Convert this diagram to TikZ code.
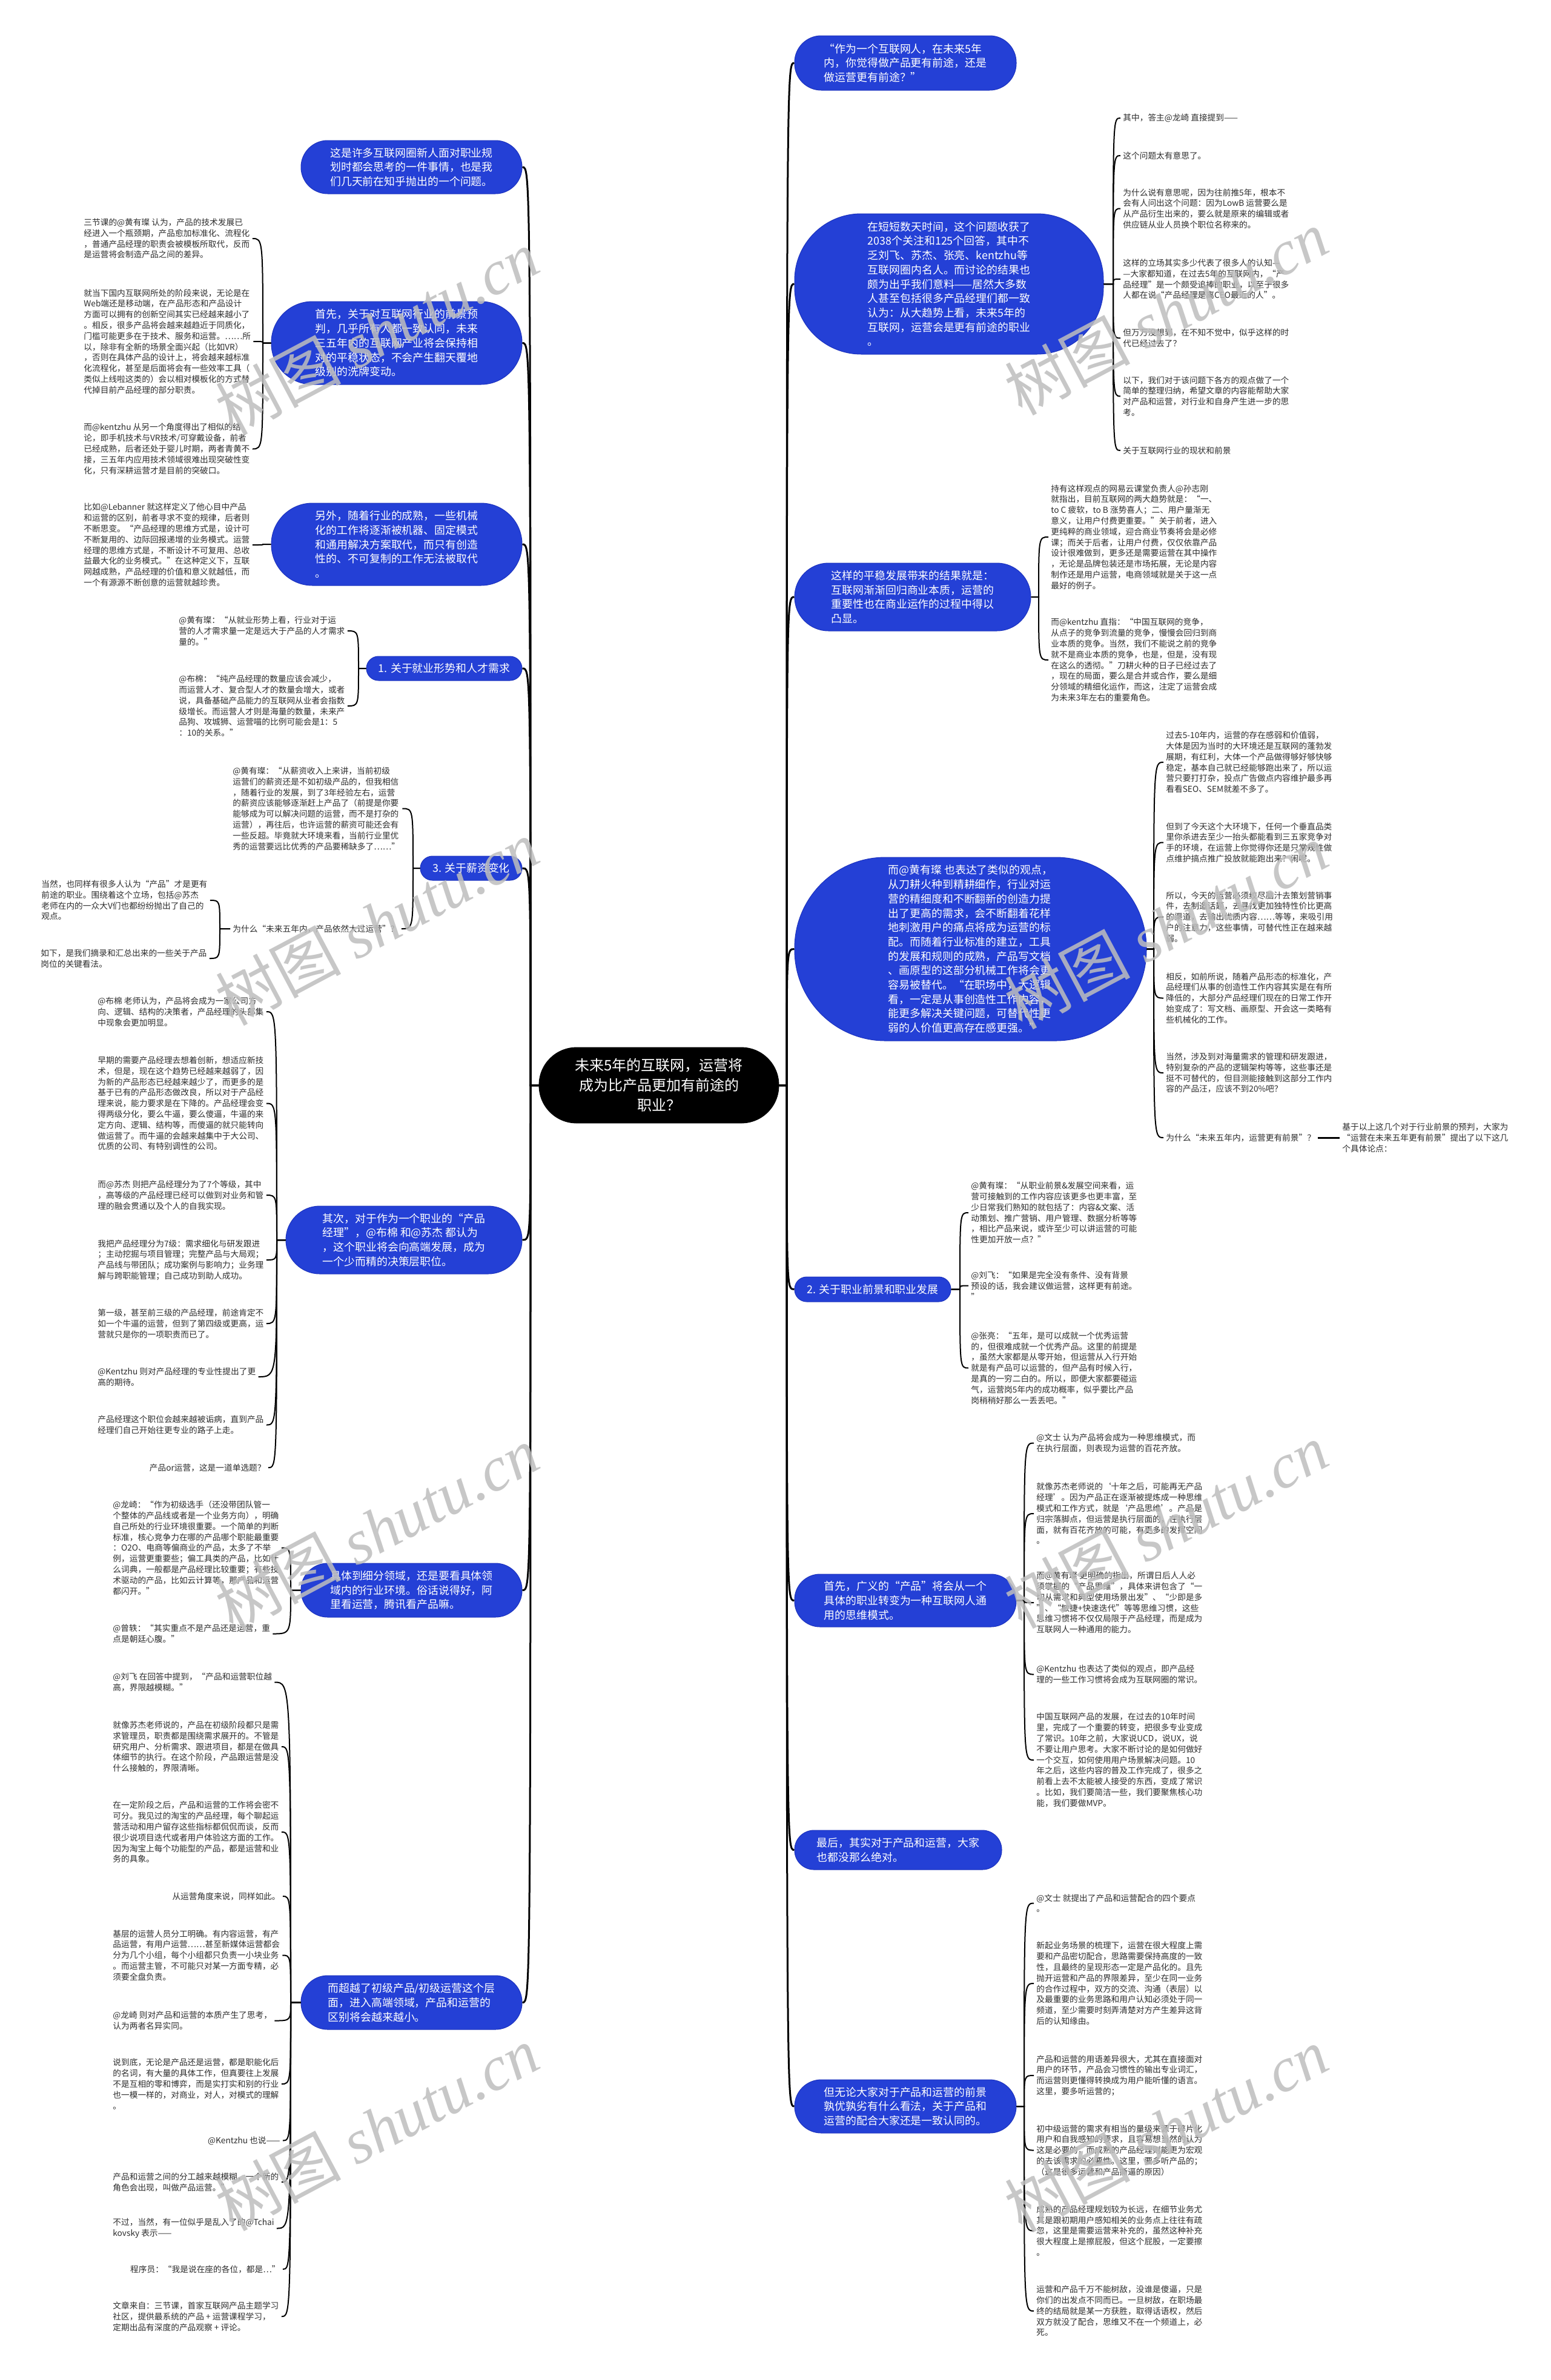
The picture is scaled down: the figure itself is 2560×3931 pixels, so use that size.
\documentclass[tikz,border=0pt]{standalone}
\usepackage{fontspec}
\setmainfont{Noto Sans CJK SC}
\newfontfamily\wmserif{Liberation Serif}
\definecolor{nodeblue}{RGB}{36,64,214}
\definecolor{nodeedge}{RGB}{28,50,190}
\definecolor{leaftext}{RGB}{45,45,45}
\definecolor{wmgray}{RGB}{190,190,190}
\tikzset{
  leaf/.style={inner xsep=2pt, inner ysep=1pt, align=left, text=leaftext,
    font=\fontsize{6.85pt}{8.9pt}\selectfont},
  bnode/.style={fill=nodeblue, draw=nodeedge, line width=0.5pt, text=white,
    align=left, inner sep=0pt, font=\fontsize{8.95pt}{11.85pt}\selectfont},
  cnode/.style={fill=black, draw=black, text=white, align=center, inner sep=0pt,
    font=\fontsize{12pt}{16.4pt}\selectfont},
  lk/.style={line width=1.0pt, black},
  mk/.style={line width=1.5pt, black},
  wm/.style={text=wmgray, text opacity=0.85, rotate=28, inner sep=0pt,
    font=\fontsize{52pt}{56pt}\selectfont}
}
\newcommand\linkl[3]{\coordinate (sp) at (#3,0);
  \draw[lk] (#1.west) -- (#1.west -| sp) .. controls (#2.east -| sp) and (#2.east -| sp) .. (#2.east);}
\newcommand\linkr[3]{\coordinate (sp) at (#3,0);
  \draw[lk] (#1.east) -- (#1.east -| sp) .. controls (#2.west -| sp) and (#2.west -| sp) .. (#2.west);}
\newcommand\mainl[1]{\draw[mk] (C.west) -- (C.west -| spL) .. controls (#1.east -| spL) and (#1.east -| spL) .. (#1.east);}
\newcommand\mainr[1]{\draw[mk] (C.east) -- (C.east -| spR) .. controls (#1.west -| spR) and (#1.west -| spR) .. (#1.west);}
\begin{document}
\begin{tikzpicture}[x=0.5pt,y=-0.5pt]
\useasboundingbox (0,0) rectangle (2560,3931);
\fill[white] (0,0) rectangle (2560,3931);
\coordinate (spL) at (876,0);
\coordinate (spR) at (1299,0);

% ---------------- centre
\node[cnode, minimum width=198pt, minimum height=62.5pt, rounded corners=31pt] (C) at (1088,1792.5)
 {未来5年的互联网，运营将\\成为比产品更加有前途的\\职业？};

% ---------------- left branch nodes
\node[bnode, minimum width=182.5pt, minimum height=44pt, rounded corners=22pt] (L1) at (679.5,276)
 {这是许多互联网圈新人面对职业规\\划时都会思考的一件事情，也是我\\们几天前在知乎抛出的一个问题。};
\node[bnode, minimum width=207pt, minimum height=68.5pt, rounded corners=34pt] (L2) at (655,566.5)
 {首先，关于对互联网行业的前景预\\判，几乎所有人都一致认同，未来\\三五年内的互联网产业将会保持相\\对的平稳状态，不会产生翻天覆地\\级别的洗牌变动。};
\node[bnode, minimum width=207pt, minimum height=68pt, rounded corners=34pt] (L3) at (655,899)
 {另外，随着行业的成熟，一些机械\\化的工作将逐渐被机器、固定模式\\和通用解决方案取代，而只有创造\\性的、不可复制的工作无法被取代\\。};
\node[bnode, minimum width=128.5pt, minimum height=20pt, rounded corners=10pt] (L4) at (733.5,1104)
 {1. 关于就业形势和人才需求};
\node[bnode, minimum width=84pt, minimum height=20pt, rounded corners=10pt] (L5) at (778,1434)
 {3. 关于薪资变化};
\node[bnode, minimum width=195pt, minimum height=56pt, rounded corners=28pt] (L6) at (667,2048)
 {其次，对于作为一个职业的“产品\\经理”，@布棉 和@苏杰 都认为\\，这个职业将会向高端发展，成为\\一个少而精的决策层职位。};
\node[bnode, minimum width=182.5pt, minimum height=44.5pt, rounded corners=22pt] (L7) at (679.5,2626.5)
 {具体到细分领域，还是要看具体领\\域内的行业环境。俗话说得好，阿\\里看运营，腾讯看产品嘛。};
\node[bnode, minimum width=182.5pt, minimum height=44.5pt, rounded corners=22pt] (L8) at (679.5,3307.5)
 {而超越了初级产品/初级运营这个层\\面，进入高端领域，产品和运营的\\区别将会越来越小。};

% ---------------- right branch nodes
\node[bnode, minimum width=183pt, minimum height=45pt, rounded corners=22pt] (R1) at (1495,104)
 {“作为一个互联网人，在未来5年\\内，你觉得做产品更有前途，还是\\做运营更有前途？”};
\node[bnode, minimum width=255pt, minimum height=116pt, rounded corners=55pt] (R2) at (1567,469)
 {在短短数天时间，这个问题收获了\\2038个关注和125个回答，其中不\\乏刘飞、苏杰、张亮、kentzhu等\\互联网圈内名人。而讨论的结果也\\颇为出乎我们意料——居然大多数\\人甚至包括很多产品经理们都一致\\认为：从大趋势上看，未来5年的\\互联网，运营会是更有前途的职业\\。};
\node[bnode, minimum width=195pt, minimum height=56pt, rounded corners=28pt] (R3) at (1507,986)
 {这样的平稳发展带来的结果就是：\\互联网渐渐回归商业本质，运营的\\重要性也在商业运作的过程中得以\\凸显。};
\node[bnode, minimum width=290.5pt, minimum height=151.5pt, rounded corners=75pt] (R4) at (1602.5,1567.5)
 {而@黄有璨 也表达了类似的观点，\\从刀耕火种到精耕细作，行业对运\\营的精细度和不断翻新的创造力提\\出了更高的需求，会不断翻着花样\\地刺激用户的痛点将成为运营的标\\配。而随着行业标准的建立，工具\\的发展和规则的成熟，产品写文档\\、画原型的这部分机械工作将会更\\容易被替代。“在职场中，大逻辑\\看，一定是从事创造性工作内容，\\能更多解决关键问题，可替代性更\\弱的人价值更高存在感更强。”};
\node[bnode, minimum width=129pt, minimum height=20.5pt, rounded corners=10pt] (R5) at (1441,2129.5)
 {2. 关于职业前景和职业发展};
\node[bnode, minimum width=183pt, minimum height=43.5pt, rounded corners=21pt] (R6) at (1495,2643.5)
 {首先，广义的“产品”将会从一个\\具体的职业转变为一种互联网人通\\用的思维模式。};
\node[bnode, minimum width=171pt, minimum height=32.5pt, rounded corners=16pt] (R7) at (1483,3055.5)
 {最后，其实对于产品和运营，大家\\也都没那么绝对。};
\node[bnode, minimum width=183pt, minimum height=44pt, rounded corners=22pt] (R8) at (1495,3479)
 {但无论大家对于产品和运营的前景\\孰优孰劣有什么看法，关于产品和\\运营的配合大家还是一致认同的。};

% ---------------- main connectors
\mainl{L1}\mainl{L2}\mainl{L3}\mainl{L4}\mainl{L5}\mainl{L6}\mainl{L7}\mainl{L8}
\mainr{R1}\mainr{R2}\mainr{R3}\mainr{R4}\mainr{R5}\mainr{R6}\mainr{R7}\mainr{R8}

% ---------------- L2 leaves
\node[leaf, anchor=west] (l2a) at (134,394) {三节课的@黄有璨 认为，产品的技术发展已\\
经进入一个瓶颈期，产品愈加标准化、流程化\\
，普通产品经理的职责会被模板所取代，反而\\
是运营将会制造产品之间的差异。};
\node[leaf, anchor=west] (l2b) at (134,564) {就当下国内互联网所处的阶段来说，无论是在\\
Web端还是移动端，在产品形态和产品设计\\
方面可以拥有的创新空间其实已经越来越小了\\
。相反，很多产品将会越来越趋近于同质化，\\
门槛可能更多在于技术、服务和运营。……所\\
以，除非有全新的场景全面兴起（比如VR）\\
，否则在具体产品的设计上，将会越来越标准\\
化流程化，甚至是后面将会有一些效率工具（\\
类似上线啦这类的）会以相对模板化的方式替\\
代掉目前产品经理的部分职责。};
\node[leaf, anchor=west] (l2c) at (134,741.5) {而@kentzhu 从另一个角度得出了相似的结\\
论，即手机技术与VR技术/可穿戴设备，前者\\
已经成熟，后者还处于婴儿时期，两者青黄不\\
接，三五年内应用技术领域很难出现突破性变\\
化，只有深耕运营才是目前的突破口。};
\linkl{L2}{l2a}{434}\linkl{L2}{l2b}{434}\linkl{L2}{l2c}{434}

% ---------------- L3 leaf
\node[leaf, anchor=west] (l3a) at (134,900) {比如@Lebanner 就这样定义了他心目中产品\\
和运营的区别，前者寻求不变的规律，后者则\\
不断思变。“产品经理的思维方式是，设计可\\
不断复用的、边际回报递增的业务模式。运营\\
经理的思维方式是，不断设计不可复用、总收\\
益最大化的业务模式。”在这种定义下，互联\\
网越成熟，产品经理的价值和意义就越低，而\\
一个有源源不断创意的运营就越珍贵。};
\linkl{L3}{l3a}{434}

% ---------------- L4 leaves
\node[leaf, anchor=west] (l4a) at (291,1042) {@黄有璨：“从就业形势上看，行业对于运\\
营的人才需求量一定是远大于产品的人才需求\\
量的。”};
\node[leaf, anchor=west] (l4b) at (291,1166) {@布棉：“纯产品经理的数量应该会减少，\\
而运营人才、复合型人才的数量会增大，或者\\
说，具备基础产品能力的互联网从业者会指数\\
级增长。而运营人才则是海量的数量，未来产\\
品狗、攻城狮、运营喵的比例可能会是1：5\\
：10的关系。”};
\linkl{L4}{l4a}{592}\linkl{L4}{l4b}{592}

% ---------------- L5 leaves
\node[leaf, anchor=west] (l5a) at (380,1335.5) {@黄有璨：“从薪资收入上来讲，当前初级\\
运营们的薪资还是不如初级产品的，但我相信\\
，随着行业的发展，到了3年经验左右，运营\\
的薪资应该能够逐渐赶上产品了（前提是你要\\
能够成为可以解决问题的运营，而不是打杂的\\
运营），再往后，也许运营的薪资可能还会有\\
一些反超。毕竟就大环境来看，当前行业里优\\
秀的运营要远比优秀的产品要稀缺多了……”};
\node[leaf, anchor=west] (l5b) at (380,1534) {为什么“未来五年内，产品依然大过运营”？};
\linkl{L5}{l5a}{682}\linkl{L5}{l5b}{682}
\node[leaf, anchor=west] (l5b1) at (64,1487) {当然，也同样有很多人认为“产品”才是更有\\
前途的职业。围绕着这个立场，包括@苏杰 \\
老师在内的一众大V们也都纷纷抛出了自己的\\
观点。};
\node[leaf, anchor=west] (l5b2) at (63,1583) {如下，是我们摘录和汇总出来的一些关于产品\\
岗位的关键看法。};
\linkl{l5b}{l5b1}{363}\linkl{l5b}{l5b2}{363}

% ---------------- L6 leaves
\node[leaf, anchor=west] (l6a) at (157,1671) {@布棉 老师认为，产品将会成为一家公司方\\
向、逻辑、结构的决策者，产品经理的头部集\\
中现象会更加明显。};
\node[leaf, anchor=west] (l6b) at (157,1822.5) {早期的需要产品经理去想着创新，想适应新技\\
术，但是，现在这个趋势已经越来越弱了，因\\
为新的产品形态已经越来越少了，而更多的是\\
基于已有的产品形态做改良，所以对于产品经\\
理来说，能力要求是在下降的。产品经理会变\\
得两级分化，要么牛逼，要么傻逼，牛逼的来\\
定方向、逻辑、结构等，而傻逼的就只能转向\\
做运营了。而牛逼的会越来越集中于大公司、\\
优质的公司、有特别调性的公司。};
\node[leaf, anchor=west] (l6c) at (157,1974) {而@苏杰 则把产品经理分为了7个等级，其中\\
，高等级的产品经理已经可以做到对业务和管\\
理的融会贯通以及个人的自我实现。};
\node[leaf, anchor=west] (l6d) at (157,2081) {我把产品经理分为7级：需求细化与研发跟进\\
；主动挖掘与项目管理；完整产品与大局观；\\
产品线与带团队；成功案例与影响力；业务理\\
解与跨职能管理；自己成功到助人成功。};
\node[leaf, anchor=west] (l6e) at (157,2186) {第一级，甚至前三级的产品经理，前途肯定不\\
如一个牛逼的运营，但到了第四级或更高，运\\
营就只是你的一项职责而已了。};
\node[leaf, anchor=west] (l6f) at (157,2274) {@Kentzhu 则对产品经理的专业性提出了更\\
高的期待。};
\node[leaf, anchor=west] (l6g) at (157,2353.5) {产品经理这个职位会越来越被诟病，直到产品\\
经理们自己开始往更专业的路子上走。};
\node[leaf, anchor=east] (l6h) at (443,2424) {产品or运营，这是一道单选题？};
\linkl{L6}{l6a}{457}\linkl{L6}{l6b}{457}\linkl{L6}{l6c}{457}\linkl{L6}{l6d}{457}
\linkl{L6}{l6e}{457}\linkl{L6}{l6f}{457}\linkl{L6}{l6g}{457}\linkl{L6}{l6h}{457}

% ---------------- L7 leaves
\node[leaf, anchor=west] (l7a) at (182,2556.5) {@龙崎：“作为初级选手（还没带团队管一\\
个整体的产品线或者是一个业务方向），明确\\
自己所处的行业环境很重要。一个简单的判断\\
标准，核心竞争力在哪的产品哪个职能最重要\\
：O2O、电商等偏商业的产品，太多了不举\\
例，运营更重要些；偏工具类的产品，比如什\\
么词典，一般都是产品经理比较重要；有些技\\
术驱动的产品，比如云计算等，那产品和运营\\
都闪开。”};
\node[leaf, anchor=west] (l7b) at (182,2698.5) {@曾轶：“其实重点不是产品还是运营，重\\
点是朝廷心腹。”};
\linkl{L7}{l7a}{480}\linkl{L7}{l7b}{480}

% ---------------- L8 leaves
\node[leaf, anchor=west] (l8a) at (182,2778.5) {@刘飞 在回答中提到，“产品和运营职位越\\
高，界限越模糊。”};
\node[leaf, anchor=west] (l8b) at (182,2885) {就像苏杰老师说的，产品在初级阶段都只是需\\
求管理员，职责都是围绕需求展开的。不管是\\
研究用户、分析需求、跟进项目，都是在做具\\
体细节的执行。在这个阶段，产品跟运营是没\\
什么接触的，界限清晰。};
\node[leaf, anchor=west] (l8c) at (182,3026) {在一定阶段之后，产品和运营的工作将会密不\\
可分。我见过的淘宝的产品经理，每个聊起运\\
营活动和用户留存这些指标都侃侃而谈，反而\\
很少说项目迭代或者用户体验这方面的工作。\\
因为淘宝上每个功能型的产品，都是运营和业\\
务的具象。};
\node[leaf, anchor=east] (l8d) at (467,3132) {从运营角度来说，同样如此。};
\node[leaf, anchor=west] (l8e) at (182,3229.5) {基层的运营人员分工明确。有内容运营，有产\\
品运营，有用户运营……甚至新媒体运营都会\\
分为几个小组，每个小组都只负责一小块业务\\
。而运营主管，不可能只对某一方面专精，必\\
须要全盘负责。};
\node[leaf, anchor=west] (l8f) at (182,3337.5) {@龙崎 则对产品和运营的本质产生了思考，\\
认为两者名异实同。};
\node[leaf, anchor=west] (l8g) at (182,3442) {说到底，无论是产品还是运营，都是职能化后\\
的名词，有大量的具体工作，但真要往上发展\\
不是互相的零和博弈，而是实打实和别的行业\\
也一模一样的，对商业，对人，对模式的理解\\
。};
\node[leaf, anchor=east] (l8h) at (467,3535.5) {@Kentzhu 也说——};
\node[leaf, anchor=west] (l8i) at (182,3604) {产品和运营之间的分工越来越模糊，一个新的\\
角色会出现，叫做产品运营。”};
\node[leaf, anchor=west] (l8j) at (182,3680.5) {不过，当然，有一位似乎是乱入了的@Tchai\\
kovsky 表示——};
\node[leaf, anchor=east] (l8k) at (467,3748) {程序员：“我是说在座的各位，都是…”};
\node[leaf, anchor=west] (l8l) at (182,3826) {文章来自：三节课，首家互联网产品主题学习\\
社区，提供最系统的产品 + 运营课程学习，\\
定期出品有深度的产品观察 + 评论。};
\linkl{L8}{l8a}{480}\linkl{L8}{l8b}{480}\linkl{L8}{l8c}{480}\linkl{L8}{l8d}{480}
\linkl{L8}{l8e}{480}\linkl{L8}{l8f}{480}\linkl{L8}{l8g}{480}\linkl{L8}{l8h}{480}
\linkl{L8}{l8i}{480}\linkl{L8}{l8j}{480}\linkl{L8}{l8k}{480}\linkl{L8}{l8l}{480}

% ---------------- R2 leaves
\node[leaf, anchor=west] (r2a) at (1850,195) {其中，答主@龙崎 直接提到——};
\node[leaf, anchor=west] (r2b) at (1850,257) {这个问题太有意思了。};
\node[leaf, anchor=west] (r2c) at (1850,344.5) {为什么说有意思呢，因为往前推5年，根本不\\
会有人问出这个问题：因为LowB 运营要么是\\
从产品衍生出来的，要么就是原来的编辑或者\\
供应链从业人员换个职位名称来的。};
\node[leaf, anchor=west] (r2d) at (1850,461) {这样的立场其实多少代表了很多人的认知—\\
—大家都知道，在过去5年的互联网内，“产\\
品经理”是一个颇受追捧的职业，以至于很多\\
人都在说“产品经理是离CEO最近的人”。};
\node[leaf, anchor=west] (r2e) at (1850,558.5) {但万万没想到，在不知不觉中，似乎这样的时\\
代已经过去了？};
\node[leaf, anchor=west] (r2f) at (1850,654.5) {以下，我们对于该问题下各方的观点做了一个\\
简单的整理归纳，希望文章的内容能帮助大家\\
对产品和运营，对行业和自身产生进一步的思\\
考。};
\node[leaf, anchor=west] (r2g) at (1850,744) {关于互联网行业的现状和前景};
\linkr{R2}{r2a}{1838}\linkr{R2}{r2b}{1838}\linkr{R2}{r2c}{1838}\linkr{R2}{r2d}{1838}
\linkr{R2}{r2e}{1838}\linkr{R2}{r2f}{1838}\linkr{R2}{r2g}{1838}

% ---------------- R3 leaves
\node[leaf, anchor=west] (r3a) at (1731,887) {持有这样观点的网易云课堂负责人@孙志刚\\
就指出，目前互联网的两大趋势就是：“一、\\
to C 疲软，to B 涨势喜人；二、用户量渐无\\
意义，让用户付费更重要。”关于前者，进入\\
更纯粹的商业领域，迎合商业节奏将会是必修\\
课；而关于后者，让用户付费，仅仅依靠产品\\
设计很难做到，更多还是需要运营在其中操作\\
，无论是品牌包装还是市场拓展，无论是内容\\
制作还是用户运营，电商领域就是关于这一点\\
最好的例子。};
\node[leaf, anchor=west] (r3b) at (1731,1090) {而@kentzhu 直指：“中国互联网的竞争，\\
从点子的竞争到流量的竞争，慢慢会回归到商\\
业本质的竞争。当然，我们不能说之前的竞争\\
就不是商业本质的竞争，也是，但是，没有现\\
在这么的透彻。”刀耕火种的日子已经过去了\\
，现在的局面，要么是合并或合作，要么是细\\
分领域的精细化运作，而这，注定了运营会成\\
为未来3年左右的重要角色。};
\linkr{R3}{r3a}{1715}\linkr{R3}{r3b}{1715}

% ---------------- R4 leaves
\node[leaf, anchor=west] (r4a) at (1921,1259) {过去5-10年内，运营的存在感弱和价值弱，\\
大体是因为当时的大环境还是互联网的蓬勃发\\
展期，有红利，大体一个产品做得够好够快够\\
稳定，基本自己就已经能够跑出来了，所以运\\
营只要打打杂，投点广告做点内容维护最多再\\
看看SEO、SEM就差不多了。};
\node[leaf, anchor=west] (r4b) at (1921,1391.5) {但到了今天这个大环境下，任何一个垂直品类\\
里你杀进去至少一抬头都能看到三五家竞争对\\
手的环境，在运营上你觉得你还是只常规性做\\
点维护搞点推广投放就能跑出来？闹呢。};
\node[leaf, anchor=west] (r4c) at (1921,1514.5) {所以，今天的运营必须绞尽脑汁去策划营销事\\
件，去制造话题，去寻找更加独特性价比更高\\
的渠道，去输出优质内容……等等，来吸引用\\
户的注意力，这些事情，可替代性正在越来越\\
弱。};
\node[leaf, anchor=west] (r4d) at (1921,1648.5) {相反，如前所说，随着产品形态的标准化，产\\
品经理们从事的创造性工作内容其实是在有所\\
降低的，大部分产品经理们现在的日常工作开\\
始变成了：写文档、画原型、开会这一类略有\\
些机械化的工作。};
\node[leaf, anchor=west] (r4e) at (1921,1772) {当然，涉及到对海量需求的管理和研发跟进，\\
特别复杂的产品的逻辑架构等等，这些事还是\\
挺不可替代的，但目测能接触到这部分工作内\\
容的产品汪，应该不到20\%吧？};
\node[leaf, anchor=west] (r4f) at (1921,1879) {为什么“未来五年内，运营更有前景”？};
\node[leaf, anchor=west] (r4f1) at (2212,1879) {基于以上这几个对于行业前景的预判，大家为\\
“运营在未来五年更有前景”提出了以下这几\\
个具体论点：};
\linkr{R4}{r4a}{1905}\linkr{R4}{r4b}{1905}\linkr{R4}{r4c}{1905}
\linkr{R4}{r4d}{1905}\linkr{R4}{r4e}{1905}\linkr{R4}{r4f}{1905}
\draw[mk] (r4f.east) -- (r4f1.west);

% ---------------- R5 leaves
\node[leaf, anchor=west] (r5a) at (1599,2003) {@黄有璨：“从职业前景\&发展空间来看，运\\
营可接触到的工作内容应该更多也更丰富，至\\
少日常我们熟知的就包括了：内容\&文案、活\\
动策划、推广营销、用户管理、数据分析等等\\
，相比产品来说，或许至少可以讲运营的可能\\
性更加开放一点？”};
\node[leaf, anchor=west] (r5b) at (1599,2123.5) {@刘飞：“如果是完全没有条件、没有背景\\
预设的话，我会建议做运营，这样更有前途。\\
”};
\node[leaf, anchor=west] (r5c) at (1599,2259.5) {@张亮：“五年，是可以成就一个优秀运营\\
的，但很难成就一个优秀产品。这里的前提是\\
，虽然大家都是从零开始，但运营从入行开始\\
就是有产品可以运营的，但产品有时候入行，\\
是真的一穷二白的。所以，即便大家都要碰运\\
气，运营岗5年内的成功概率，似乎要比产品\\
岗稍稍好那么一丢丢吧。”};
\linkr{R5}{r5a}{1585}\linkr{R5}{r5b}{1585}\linkr{R5}{r5c}{1585}

% ---------------- R6 leaves
\node[leaf, anchor=west] (r6a) at (1707,2383.5) {@文士 认为产品将会成为一种思维模式，而\\
在执行层面，则表现为运营的百花齐放。};
\node[leaf, anchor=west] (r6b) at (1707,2500) {就像苏杰老师说的‘十年之后，可能再无产品\\
经理’。因为产品正在逐渐被提炼成一种思维\\
模式和工作方式，就是‘产品思维’。产品是\\
归宗落脚点，但运营是执行层面的，在执行层\\
面，就有百花齐放的可能，有更多的发挥空间\\
。};
\node[leaf, anchor=west] (r6c) at (1707,2647) {而@黄有璨 更明确的指出，所谓日后人人必\\
须掌握的“产品思维”，具体来讲包含了“一\\
切从需求和典型使用场景出发”、“少即是多\\
”、“敏捷+快速迭代”等等思维习惯，这些\\
思维习惯将不仅仅局限于产品经理，而是成为\\
互联网人一种通用的能力。};
\node[leaf, anchor=west] (r6d) at (1707,2765.5) {@Kentzhu 也表达了类似的观点，即产品经\\
理的一些工作习惯将会成为互联网圈的常识。};
\node[leaf, anchor=west] (r6e) at (1707,2907) {中国互联网产品的发展，在过去的10年时间\\
里，完成了一个重要的转变，把很多专业变成\\
了常识。10年之前，大家说UCD，说UX，说\\
不要让用户思考。大家不断讨论的是如何做好\\
一个交互，如何使用用户场景解决问题。10\\
年之后，这些内容的普及工作完成了，很多之\\
前看上去不太能被人接受的东西，变成了常识\\
。比如，我们要简洁一些，我们要聚焦核心功\\
能，我们要做MVP。};
\linkr{R6}{r6a}{1691}\linkr{R6}{r6b}{1691}\linkr{R6}{r6c}{1691}
\linkr{R6}{r6d}{1691}\linkr{R6}{r6e}{1691}

% ---------------- R8 leaves
\node[leaf, anchor=west] (r8a) at (1707,3143.5) {@文士 就提出了产品和运营配合的四个要点\\
。};
\node[leaf, anchor=west] (r8b) at (1707,3276) {新起业务场景的梳理下，运营在很大程度上需\\
要和产品密切配合，思路需要保持高度的一致\\
性，且最终的呈现形态一定是产品化的。且先\\
抛开运营和产品的界限差异，至少在同一业务\\
的合作过程中，双方的交流、沟通（表层）以\\
及最重要的业务思路和用户认知必须处于同一\\
频道，至少需要时刻弄清楚对方产生差异这背\\
后的认知缘由。};
\node[leaf, anchor=west] (r8c) at (1707,3428) {产品和运营的用语差异很大，尤其在直接面对\\
用户的环节，产品会习惯性的输出专业词汇，\\
而运营则更懂得转换成为用户能听懂的语言。\\
这里，要多听运营的；};
\node[leaf, anchor=west] (r8d) at (1707,3551.5) {初中级运营的需求有相当的量级来源于碎片化\\
用户和自我感知的要求，且容易想当然的认为\\
这是必要的，而成熟的产品经理则能更为宏观\\
的去该需求的必要性。这里，要多听产品的；\\
（这是很多运营和产品撕逼的原因）};
\node[leaf, anchor=west] (r8e) at (1707,3684.5) {成熟的产品经理规划较为长远，在细节业务尤\\
其是跟初期用户感知相关的业务点上往往有疏\\
忽，这里是需要运营来补充的，虽然这种补充\\
很大程度上是擦屁股，但这个屁股，一定要擦\\
。};
\node[leaf, anchor=west] (r8f) at (1707,3817) {运营和产品千万不能树敌，没谁是傻逼，只是\\
你们的出发点不同而已。一旦树敌，在职场最\\
终的结局就是某一方获胜，取得话语权，然后\\
双方就没了配合，思维又不在一个频道上，必\\
死。};
\linkr{R8}{r8a}{1691}\linkr{R8}{r8b}{1691}\linkr{R8}{r8c}{1691}
\linkr{R8}{r8d}{1691}\linkr{R8}{r8e}{1691}\linkr{R8}{r8f}{1691}

% ---------------- watermarks
\node[wm] (w1) at (622,549) {树图 {\wmserif\itshape shutu.cn}};
\node[wm] (w2) at (1925,516) {树图 {\wmserif\itshape shutu.cn}};
\node[wm] (w3) at (622,1524) {树图 {\wmserif\itshape shutu.cn}};
\node[wm] (w4) at (1925,1530) {树图 {\wmserif\itshape shutu.cn}};
\node[wm] (w5) at (622,2525) {树图 {\wmserif\itshape shutu.cn}};
\node[wm] (w6) at (1925,2520) {树图 {\wmserif\itshape shutu.cn}};
\node[wm] (w7) at (622,3515) {树图 {\wmserif\itshape shutu.cn}};
\node[wm] (w8) at (1925,3517) {树图 {\wmserif\itshape shutu.cn}};
\end{tikzpicture}
\end{document}
